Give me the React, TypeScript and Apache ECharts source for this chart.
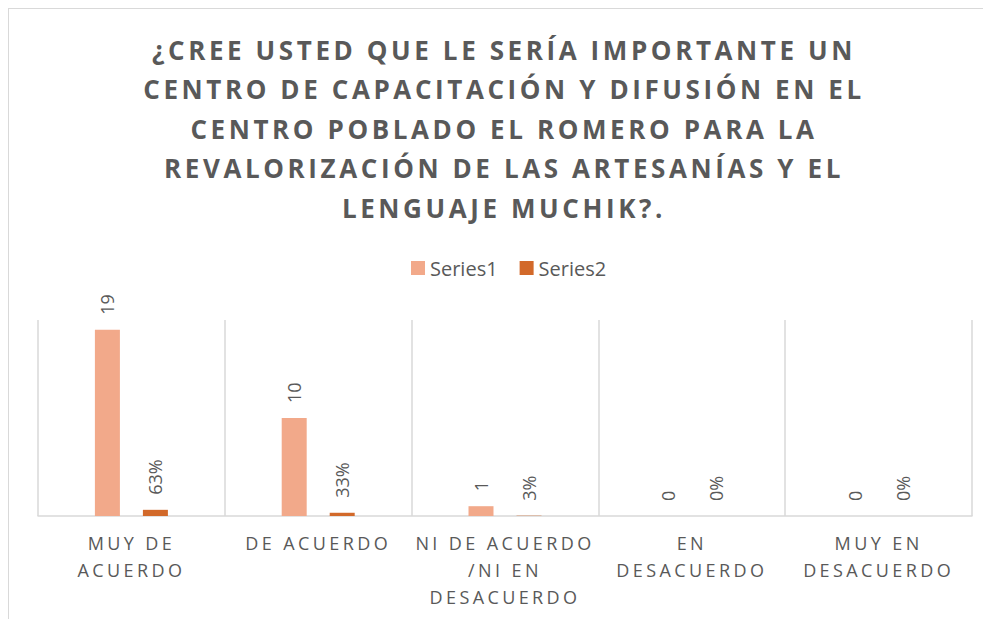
import React, { useEffect, useRef } from "react";
import * as echarts from "echarts";

const titleLines = [
  "¿CREE USTED QUE LE SERÍA IMPORTANTE UN",
  "CENTRO DE CAPACITACIÓN Y DIFUSIÓN EN EL",
  "CENTRO POBLADO EL ROMERO PARA LA",
  "REVALORIZACIÓN DE LAS ARTESANÍAS Y EL",
  "LENGUAJE MUCHIK?.",
];
const categories = [
  "MUY DE\nACUERDO",
  "DE ACUERDO",
  "NI DE ACUERDO\n/NI EN\nDESACUERDO",
  "EN\nDESACUERDO",
  "MUY EN\nDESACUERDO",
];
const series1 = [19, 10, 1, 0, 0];
const series2 = [0.63, 0.33, 0.03, 0, 0];
const seriesNames = ["Series1", "Series2"];
const yMax = 20;

const GRAY = "#595959";

export default function App() {
  const ref = useRef<HTMLDivElement>(null);
  useEffect(() => {
    if (!ref.current) return;
    const chart = echarts.init(ref.current, undefined, { renderer: "svg" });
    const labelBase = {
      show: true,
      position: "top" as const,
      distance: 15,
      rotate: 90,
      align: "left" as const,
      verticalAlign: "middle" as const,
      fontSize: 18,
      color: GRAY,
      fontFamily: "'Open Sans'",
    };
    chart.setOption({
      animation: false,
      backgroundColor: "#ffffff",
      graphic: [
        {
          type: "text",
          x: 495,
          y: 21,
          style: {
            text: titleLines.join("\n"),
            fontSize: 26,
            fontWeight: "bold",
            fontFamily: "'Open Sans', lsT",
            fill: GRAY,
            align: "center",
            verticalAlign: "top",
            lineHeight: 39.5,
          },
        },
      ],
      legend: {
        data: seriesNames,
        left: 402,
        top: 249,
        padding: 0,
        itemWidth: 14,
        itemHeight: 14,
        itemGap: 22,
        icon: "rect",
        textStyle: { fontSize: 20, color: GRAY, fontFamily: "'Open Sans'" },
      },
      grid: { left: 29, right: 19, top: 311, height: 196 },
      xAxis: {
        type: "category",
        data: categories,
        axisTick: { show: false },
        axisLine: { lineStyle: { color: "#d9d9d9", width: 1.5 } },
        splitLine: { show: true, lineStyle: { color: "#d9d9d9", width: 1.5 } },
        axisLabel: {
          interval: 0,
          fontSize: 18,
          lineHeight: 27,
          margin: 13,
          color: GRAY,
          fontFamily: "'Open Sans', lsA",
        },
      },
      yAxis: {
        type: "value",
        min: 0,
        max: yMax,
        show: false,
        splitLine: { show: false },
      },
      series: [
        {
          name: seriesNames[0],
          type: "bar",
          data: series1,
          barWidth: 25,
          barGap: "92%",
          itemStyle: { color: "#F2A98A" },
          label: { ...labelBase },
        },
        {
          name: seriesNames[1],
          type: "bar",
          data: series2,
          barWidth: 25,
          itemStyle: { color: "#D2692A" },
          label: {
            ...labelBase,
            formatter: (p: any) => Math.round(p.value * 100) + "%",
          },
        },
      ],
    });
    return () => chart.dispose();
  }, []);
  return (
    <div style={{ borderLeft: "1px solid #d9d9d9", borderTop: "1px solid #d9d9d9", width: 982, height: 610 }}>
      <style>{`
        svg text[style*="lsT"], svg text[font-family*="lsT"] { letter-spacing: 3.6px; }
        svg text[style*="lsA"], svg text[font-family*="lsA"] { letter-spacing: 3.4px; }
      `}</style>
      <div ref={ref} style={{ width: 982, height: 610 }} />
    </div>
  );
}
